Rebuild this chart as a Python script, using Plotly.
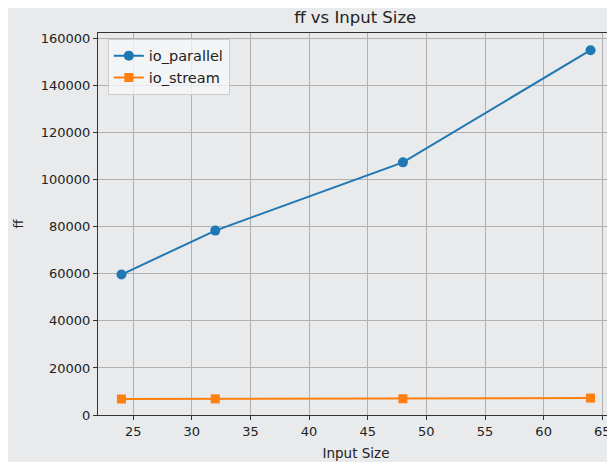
import plotly.graph_objects as go

input_size = [24, 32, 48, 64]
io_parallel = [59700, 78400, 107400, 155100]
io_stream = [6800, 6850, 6900, 7200]

x_ticks = [25, 30, 35, 40, 45, 50, 55, 60, 65]
y_ticks = [0, 20000, 40000, 60000, 80000, 100000, 120000, 140000, 160000]

font = "DejaVu Sans"

fig = go.Figure()
fig.add_trace(go.Scatter(
    x=input_size, y=io_parallel, name="io_parallel", mode="lines+markers",
    line=dict(color="#1f77b4", width=2),
    marker=dict(symbol="circle", size=10, color="#1f77b4"),
))
fig.add_trace(go.Scatter(
    x=input_size, y=io_stream, name="io_stream", mode="lines+markers",
    line=dict(color="#ff7f0e", width=2),
    marker=dict(symbol="square", size=9, color="#ff7f0e"),
))

fig.update_layout(
    width=607, height=454,
    margin=dict(l=90, r=1, t=25, b=47, autoexpand=False),
    paper_bgcolor="#e9eaeb",
    plot_bgcolor="rgba(0,0,0,0)",
    font=dict(family=font, size=13, color="#222222"),
    title=dict(text="ff vs Input Size", x=0.572, xanchor="center", y=0.98, yanchor="middle",
               font=dict(family=font, size=16.5, color="#222222")),
    showlegend=True,
    legend=dict(x=0.019, y=0.985, xanchor="left", yanchor="top",
                bgcolor="rgba(245,246,247,0.8)", bordercolor="#cccccc", borderwidth=1,
                font=dict(family=font, size=14.5, color="#222222"),
                itemwidth=30, tracegroupgap=2),
)
fig.update_xaxes(
    range=[22, 66], tickvals=x_ticks, ticktext=[str(v) for v in x_ticks],
    showgrid=True, gridcolor="#b0b0b0", gridwidth=1,
    showline=True, linecolor="#333333", linewidth=1, mirror=True,
    ticks="outside", ticklen=4, tickcolor="#333333",
    zeroline=False, automargin=False,
    title=dict(text="Input Size", standoff=10, font=dict(family=font, size=13.5, color="#222222")),
)
fig.update_yaxes(
    range=[0, 162400], tickvals=y_ticks, ticktext=[str(v) for v in y_ticks],
    showgrid=True, gridcolor="#b0b0b0", gridwidth=1,
    showline=True, linecolor="#333333", linewidth=1, mirror=True,
    ticks="outside", ticklen=4, tickcolor="#333333",
    zeroline=False, automargin=False,
    title=dict(text="ff", standoff=14, font=dict(family=font, size=13, color="#222222")),
)

fig.write_html("out.html")
